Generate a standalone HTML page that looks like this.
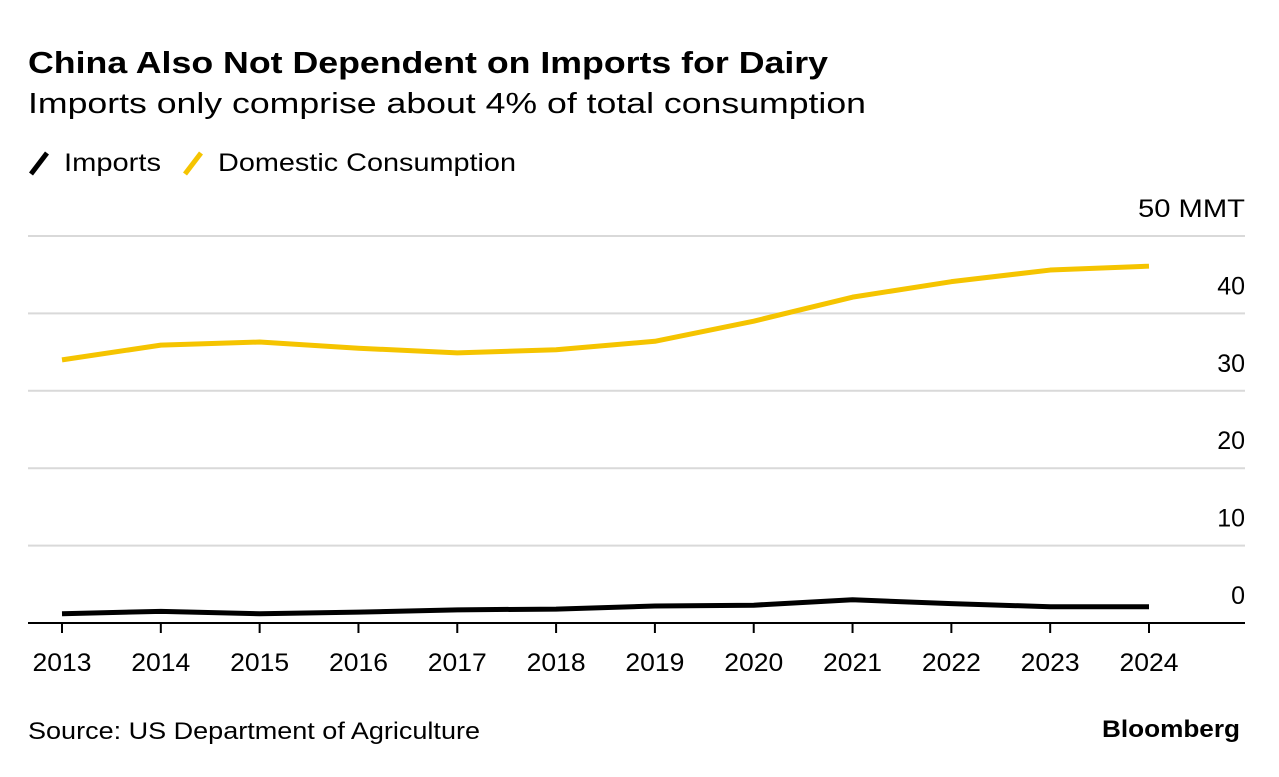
<!DOCTYPE html>
<html><head><meta charset="utf-8"><style>
body{margin:0;background:#fff;width:1279px;height:772px;overflow:hidden;font-family:"Liberation Sans",sans-serif;}
</style></head><body>
<svg width="1279" height="772" xmlns="http://www.w3.org/2000/svg" font-family="Liberation Sans, sans-serif">
<text x="28" y="73" font-size="31" font-weight="bold" fill="#000" textLength="800" lengthAdjust="spacingAndGlyphs">China Also Not Dependent on Imports for Dairy</text>
<text x="28" y="113" font-size="29" fill="#000" textLength="838" lengthAdjust="spacingAndGlyphs">Imports only comprise about 4% of total consumption</text>
<g><line x1="31" y1="174" x2="47" y2="153" stroke="#000" stroke-width="5"/><text x="64" y="171" font-size="25" textLength="97" lengthAdjust="spacingAndGlyphs">Imports</text></g>
<g><line x1="185" y1="174" x2="201" y2="153" stroke="#f5c400" stroke-width="5"/><text x="218" y="171" font-size="25" textLength="298" lengthAdjust="spacingAndGlyphs">Domestic Consumption</text></g>
<g id="grid"></g><g id="xaxis"></g><g id="series"></g>
<text x="28" y="739" font-size="24" textLength="452" lengthAdjust="spacingAndGlyphs">Source: US Department of Agriculture</text>
<text x="1240" y="737" font-size="24" font-weight="bold" text-anchor="end" textLength="138" lengthAdjust="spacingAndGlyphs">Bloomberg</text>
</svg>
<script>
const years=[2013,2014,2015,2016,2017,2018,2019,2020,2021,2022,2023,2024];
const domestic=[34.0,35.9,36.3,35.5,34.9,35.3,36.4,39.0,42.1,44.1,45.6,46.1];
const imports=[1.2,1.5,1.2,1.4,1.7,1.8,2.2,2.3,3.0,2.5,2.1,2.1];
const yTicks=[0,10,20,30,40,50];
const yTickLabels=["0","10","20","30","40","50 MMT"];
const NS="http://www.w3.org/2000/svg";
const xs=i=>62+(1149-62)*i/(years.length-1);
const ys=v=>623-v*(623-236)/50;
function mk(t,a,p){const e=document.createElementNS(NS,t);for(const k in a)e.setAttribute(k,a[k]);p.appendChild(e);return e;}
const grid=document.getElementById('grid');
yTicks.forEach((v,i)=>{
  const l=mk('line',{x1:28,x2:1245,y1:ys(v),y2:ys(v),stroke:v===0?'#000':'#d9d9d9','stroke-width':2},grid);
  
  
  const a={x:1245,y:ys(v)-19,'font-size':25,'text-anchor':'end'};
  if(v===50){a.textLength=107;a.lengthAdjust='spacingAndGlyphs';}
  const t=mk('text',a,grid);
  t.textContent=yTickLabels[i];
  
  
});
const xa=document.getElementById('xaxis');
years.forEach((y,i)=>{
  const l=mk('line',{x1:xs(i),x2:xs(i),y1:623,y2:633,stroke:'#000','stroke-width':2},xa);
  
  
  const t=mk('text',{x:xs(i),y:671,'font-size':25,'text-anchor':'middle',textLength:59,lengthAdjust:'spacingAndGlyphs'},xa);
  t.textContent=y;
  
  
});
const s=document.getElementById('series');
function line(vals,color,name){
  const p=mk('polyline',{points:vals.map((v,i)=>xs(i)+','+ys(v)).join(' '),fill:'none',stroke:color,'stroke-width':5,'stroke-linejoin':'round'},s);
  
  
}
line(domestic,'#f5c400','domestic-consumption-line');
line(imports,'#000','imports-line');
</script>
</body></html>
